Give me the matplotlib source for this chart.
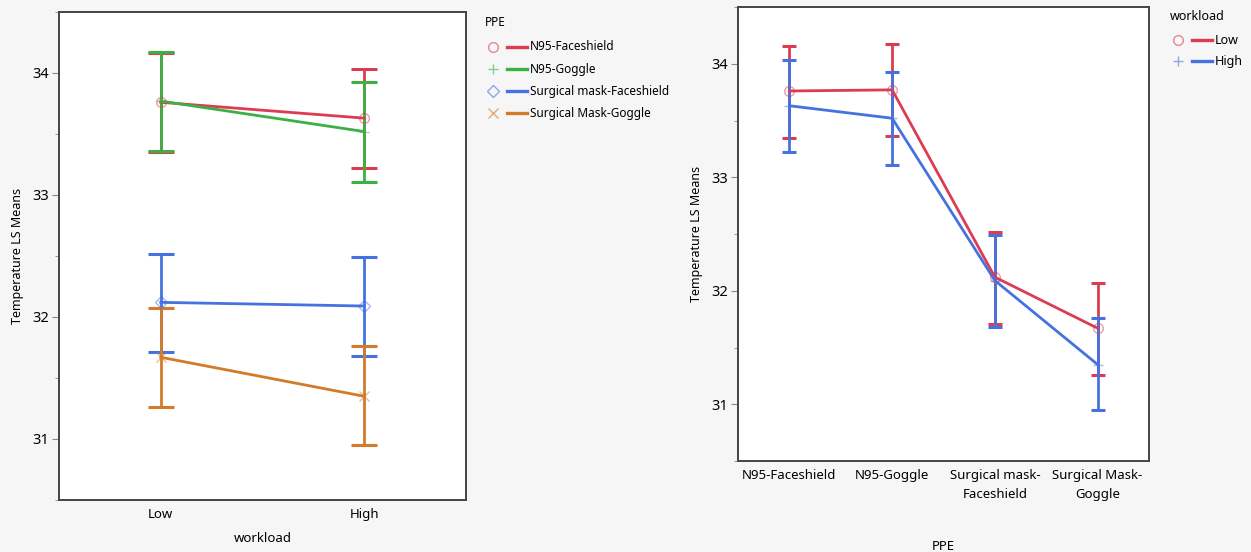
import matplotlib.pyplot as plt
from matplotlib.lines import Line2D

plt.rcParams['font.family'] = ['Noto Sans', 'DejaVu Sans']

ppe = ['N95-Faceshield', 'N95-Goggle', 'Surgical mask-Faceshield', 'Surgical Mask-Goggle']
ppe_ticks = ['N95-Faceshield', 'N95-Goggle', 'Surgical mask-\nFaceshield', 'Surgical Mask-\nGoggle']
workload = ['Low', 'High']

# LS means with 95% limits, one entry per PPE
mean_low = [33.76, 33.77, 32.12, 31.67]
mean_high = [33.63, 33.52, 32.09, 31.35]
lower_low = [33.35, 33.36, 31.71, 31.26]
upper_low = [34.16, 34.17, 32.52, 32.07]
lower_high = [33.22, 33.11, 31.68, 30.95]
upper_high = [34.03, 33.93, 32.49, 31.76]

ppe_colors = ['#dc3c52', '#3cb044', '#4672e0', '#d27b2a']
ppe_markers = ['o', '+', 'D', 'x']
wl_colors = ['#dc3c52', '#4672e0']
wl_markers = ['o', '+']

FRAME = '#444444'
BG = '#f6f6f6'


def style_axes(ax):
    ax.set_facecolor('white')
    for s in ax.spines.values():
        s.set_color(FRAME)
        s.set_linewidth(1.4)
    ax.set_ylim(30.5, 34.5)
    ax.set_yticks([31, 32, 33, 34])
    ax.set_yticks([30.5, 31.5, 32.5, 33.5, 34.5], minor=True)
    ax.tick_params(axis='y', which='major', length=5, color='#888888', labelsize=10.5, pad=2)
    ax.tick_params(axis='y', which='minor', length=3, color='#888888')
    ax.tick_params(axis='x', length=0, labelsize=9.5, pad=6)
    ax.set_ylabel('Temperature LS Means', fontsize=9, labelpad=6)


def draw_series(ax, x, means, lo, hi, color, marker, capsize):
    yerr = [[m - l for m, l in zip(means, lo)], [h - m for m, h in zip(means, hi)]]
    ax.errorbar(x, means, yerr=yerr, fmt='none', ecolor=color, elinewidth=2,
                capsize=capsize, capthick=2.2, zorder=2)
    ax.plot(x, means, color=color, lw=2, zorder=3)
    face = 'none' if marker in ('o', 'D') else color
    ax.plot(x, means, ls='none', marker=marker, ms=7 if marker != 'D' else 6,
            mfc=face, mec=color, mew=1, alpha=0.5, zorder=4)


def draw_key(fig, x0, y0, dy, title, labels, colors, markers, fs):
    W, H = 1251, 552
    fig.text(x0 / W, 1 - y0 / H, title, fontsize=fs, va='center', ha='left')
    for i, (lab, c, m) in enumerate(zip(labels, colors, markers)):
        y = 1 - (y0 + (i + 1) * dy + 3) / H
        face = 'none' if m in ('o', 'D') else c
        fig.add_artist(Line2D([(x0 + 8) / W], [y], marker=m, ms=7 if m != 'D' else 6,
                              mfc=face, mec=c, mew=1, alpha=0.6, ls='none'))
        fig.add_artist(Line2D([(x0 + 22) / W, (x0 + 42) / W], [y, y], color=c, lw=2.4))
        fig.text((x0 + 45) / W, y, lab, fontsize=fs, va='center', ha='left')


fig = plt.figure(figsize=(12.51, 5.52), dpi=100, facecolor=BG)

# left: interaction by workload
ax1 = fig.add_axes([59 / 1251, 1 - 500 / 552, 407 / 1251, 488 / 552])
style_axes(ax1)
x_wl = [0, 1]
for i in range(len(ppe)):
    draw_series(ax1, x_wl, [mean_low[i], mean_high[i]],
                [lower_low[i], lower_high[i]], [upper_low[i], upper_high[i]],
                ppe_colors[i], ppe_markers[i], capsize=9.5)
ax1.set_xlim(-0.5, 1.5)
ax1.set_xticks(x_wl)
ax1.set_xticklabels(workload)
ax1.set_xlabel('workload', fontsize=9.5, labelpad=8)

# right: interaction by PPE
ax2 = fig.add_axes([738 / 1251, 1 - 461 / 552, 411 / 1251, 454 / 552])
style_axes(ax2)
x_ppe = list(range(len(ppe)))
draw_series(ax2, x_ppe, mean_low, lower_low, upper_low, wl_colors[0], wl_markers[0], capsize=5)
draw_series(ax2, x_ppe, mean_high, lower_high, upper_high, wl_colors[1], wl_markers[1], capsize=5)
ax2.set_xlim(-0.5, 3.5)
ax2.set_xticks(x_ppe)
ax2.set_xticklabels(ppe_ticks, linespacing=1.6)
ax2.set_xlabel('PPE', fontsize=9.5, labelpad=28)

draw_key(fig, 485, 22, 22, 'PPE', ppe, ppe_colors, ppe_markers, 8.5)
draw_key(fig, 1170, 16, 21, 'workload', workload, wl_colors, wl_markers, 9)

fig.savefig('out.png', dpi=100, facecolor=BG)
